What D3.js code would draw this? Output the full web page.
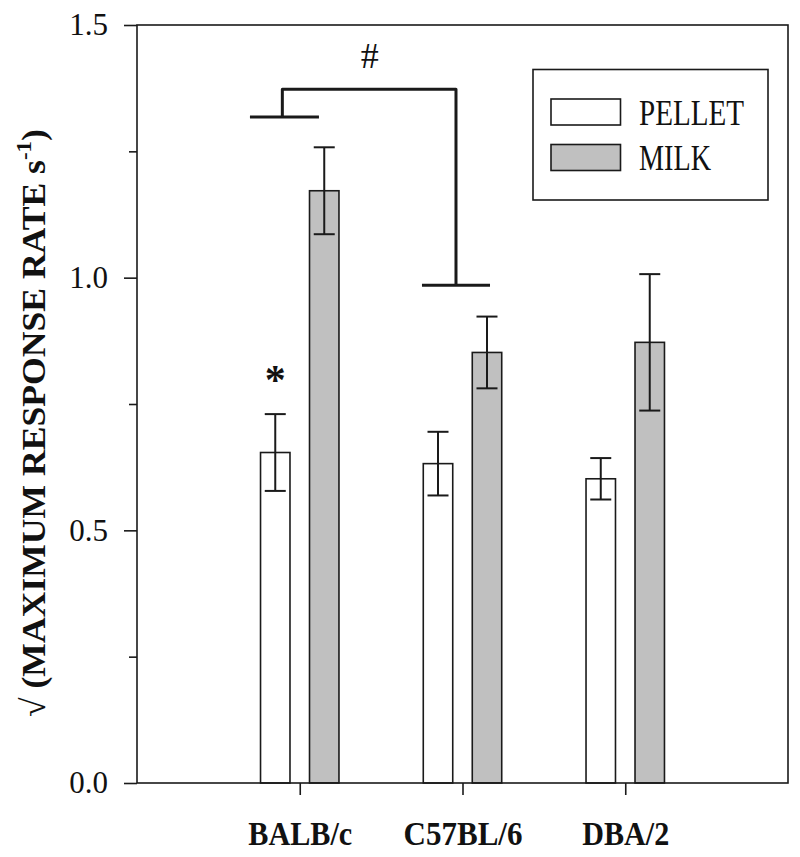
<!DOCTYPE html>
<html>
<head>
<meta charset="utf-8">
<script src="https://cdn.jsdelivr.net/npm/d3@7"></script>
<style>
  html, body { margin: 0; padding: 0; background: #fff; }
  svg { display: block; }
  text { font-family: "Liberation Serif", "Times New Roman", serif; fill: #111; }
</style>
</head>
<body>
<script>
// ---- data ----
const categories = ["BALB/c", "C57BL/6", "DBA/2"];
const seriesNames = ["PELLET", "MILK"];
const pelletMean = [0.654, 0.632, 0.602];
const pelletSE   = [0.076, 0.063, 0.041];
const milkMean   = [1.172, 0.852, 0.872];
const milkSE     = [0.086, 0.071, 0.135];
const yMajorTicks = [0.0, 0.5, 1.0, 1.5];
const yMinorTicks = [0.25, 0.75, 1.25];
// significance bracket (category-index units, y data units)
const bracketLeft  = { x0: 0.694, x1: 1.118, xm: 0.893, y: 1.318 };
const bracketRight = { x0: 1.751, x1: 2.169, xm: 1.960, y: 0.985 };
const bracketTopY = 1.373;
const hashLabel = "#";
const starLabel = "*";

// ---- layout ----
const W = 800, H = 857;
const L = 137, R = 788, T = 25, B = 783;

const svg = d3.select("body").append("svg").attr("width", W).attr("height", H);

const x = d3.scaleLinear().domain([0, 4]).range([L, R]);
const y = d3.scaleLinear().domain([0, 1.5]).range([B, T]);
const barOff = 0.1505;   // offset of bar centres from category centre
const barW = x(0.181) - x(0);

const ink = "#1a1a1a";
const serif = '"Liberation Serif", "Times New Roman", serif';

// bars
const barData = [];
categories.forEach((c, i) => {
  barData.push({ i, s: 0, v: pelletMean[i], e: pelletSE[i] });
  barData.push({ i, s: 1, v: milkMean[i], e: milkSE[i] });
});
const fills = ["#ffffff", "#c0c0c0"];
const cx = d => x(d.i + 1 + (d.s === 0 ? -barOff : barOff));

svg.append("g").selectAll("rect").data(barData).join("rect")
  .attr("x", d => cx(d) - barW / 2)
  .attr("y", d => y(d.v))
  .attr("width", barW)
  .attr("height", d => y(0) - y(d.v))
  .attr("fill", d => fills[d.s])
  .attr("stroke", ink).attr("stroke-width", 1.6);

// error bars
const eb = svg.append("g").attr("stroke", ink).attr("stroke-width", 2).attr("fill", "none");
const capW = 10.5;
barData.forEach(d => {
  const xc = cx(d);
  eb.append("line").attr("x1", xc).attr("x2", xc).attr("y1", y(d.v + d.e)).attr("y2", y(d.v - d.e));
  eb.append("line").attr("x1", xc - capW).attr("x2", xc + capW).attr("y1", y(d.v + d.e)).attr("y2", y(d.v + d.e));
  eb.append("line").attr("x1", xc - capW).attr("x2", xc + capW).attr("y1", y(d.v - d.e)).attr("y2", y(d.v - d.e));
});

// frame
svg.append("rect").attr("x", L).attr("y", T).attr("width", R - L).attr("height", B - T)
  .attr("fill", "none").attr("stroke", ink).attr("stroke-width", 1.6);

// y axis
const yAxis = svg.append("g").attr("transform", `translate(${L},0)`)
  .call(d3.axisLeft(y).tickValues(yMajorTicks).tickFormat(d3.format(".1f")).tickSize(13).tickPadding(16));
yAxis.attr("font-family", serif);
yAxis.select(".domain").remove();
yAxis.selectAll(".tick line").attr("stroke", ink).attr("stroke-width", 1.6);
yAxis.selectAll(".tick text").attr("font-size", 31).attr("fill", "#111")
  .style("font-family", serif);

const yMinor = svg.append("g").attr("transform", `translate(${L},0)`)
  .call(d3.axisLeft(y).tickValues(yMinorTicks).tickFormat("").tickSize(8));
yMinor.select(".domain").remove();
yMinor.selectAll(".tick line").attr("stroke", ink).attr("stroke-width", 1.6);

// x axis
const xAxis = svg.append("g").attr("transform", `translate(0,${B})`)
  .call(d3.axisBottom(x).tickValues([1, 2, 3]).tickFormat((d) => categories[d - 1]).tickSize(12).tickPadding(0));
xAxis.attr("font-family", serif);
xAxis.select(".domain").remove();
xAxis.selectAll(".tick line").attr("stroke", ink).attr("stroke-width", 1.6);
const xLabelLen = [104, 119, 87];
xAxis.selectAll(".tick text")
  .attr("y", 62).attr("dy", null)
  .attr("font-size", 33).attr("font-weight", "bold").attr("fill", "#111")
  .style("font-family", serif)
  .attr("textLength", (d) => xLabelLen[d - 1])
  .attr("lengthAdjust", "spacingAndGlyphs");

// y label
const yl = svg.append("text")
  .attr("transform", `translate(45,${(128 + 718) / 2}) rotate(-90)`)
  .attr("text-anchor", "middle")
  .attr("font-size", 34).attr("font-weight", "bold")
  .attr("textLength", 588).attr("lengthAdjust", "spacingAndGlyphs");
yl.append("tspan").text("√ (MAXIMUM RESPONSE RATE s");
yl.append("tspan").attr("dy", -14).attr("font-size", 22).text("-1");
yl.append("tspan").attr("dy", 14).text(")");

// significance bracket
const br = svg.append("g").attr("stroke", ink).attr("stroke-width", 3).attr("fill", "none")
  .attr("stroke-linejoin", "round");
br.append("line").attr("x1", x(bracketLeft.x0)).attr("x2", x(bracketLeft.x1)).attr("y1", y(bracketLeft.y)).attr("y2", y(bracketLeft.y));
br.append("line").attr("x1", x(bracketRight.x0)).attr("x2", x(bracketRight.x1)).attr("y1", y(bracketRight.y)).attr("y2", y(bracketRight.y));
br.append("path").attr("d", d3.line()([
  [x(bracketLeft.xm), y(bracketLeft.y)],
  [x(bracketLeft.xm), y(bracketTopY)],
  [x(bracketRight.xm), y(bracketTopY)],
  [x(bracketRight.xm), y(bracketRight.y)]
]));

svg.append("text").attr("x", x(1.43)).attr("y", 68).attr("text-anchor", "middle")
  .attr("font-size", 36).text(hashLabel);

svg.append("text").attr("x", x(1 - barOff)).attr("y", 394).attr("text-anchor", "middle")
  .attr("font-size", 42).attr("font-weight", "bold").text(starLabel);

// legend
const lg = svg.append("g");
lg.append("rect").attr("x", 533).attr("y", 69.5).attr("width", 235).attr("height", 130.5)
  .attr("fill", "#fff").attr("stroke", ink).attr("stroke-width", 1.6);
const legendY = [99, 144.5];
const legendLen = [105, 72];
seriesNames.forEach((n, k) => {
  lg.append("rect").attr("x", 551).attr("y", legendY[k]).attr("width", 69.5).attr("height", 26)
    .attr("fill", fills[k]).attr("stroke", ink).attr("stroke-width", 1.6);
  lg.append("text").attr("x", 639).attr("y", legendY[k] + 25.5)
    .attr("font-size", 35).attr("textLength", legendLen[k]).attr("lengthAdjust", "spacingAndGlyphs")
    .text(n);
});
</script>
</body>
</html>
